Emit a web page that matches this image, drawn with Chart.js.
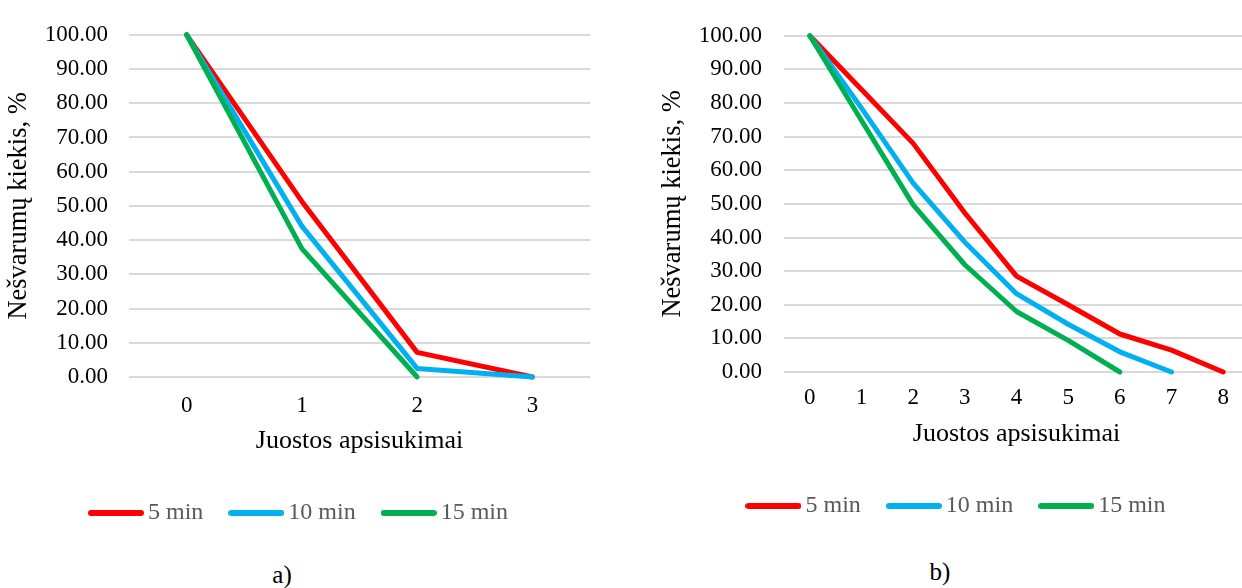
<!DOCTYPE html>
<html>
<head>
<meta charset="utf-8">
<script src="https://cdn.jsdelivr.net/npm/chart.js@4/dist/chart.umd.min.js"></script>
<style>
  html, body { margin: 0; padding: 0; background: #fff; }
  body { width: 1242px; height: 588px; position: relative; overflow: hidden; }
  canvas { position: absolute; top: 0; }
  #chartA { left: 0; }
  #chartB { left: 654px; }
  .cap { position: absolute; font-family: "Liberation Serif", "Times New Roman", serif;
         font-size: 25px; color: #000; transform: translate(-50%, -50%); white-space: nowrap; }
</style>
</head>
<body>
<canvas id="chartA" width="598" height="535"></canvas>
<canvas id="chartB" width="605" height="528"></canvas>
<div class="cap" style="left:282px; top:575px;">a)</div>
<div class="cap" style="left:940px; top:572px;">b)</div>
<script>
// Series names and colours (5, 10 and 15 minutes)
const seriesNames = ['5 min', '10 min', '15 min'];
const seriesColors = ['#FF0000', '#00B0F0', '#00B050'];

// a) belt revolutions and remaining dirt, %
const revolutionsA = ['0', '1', '2', '3'];
const dirtA5 = [100, 51.3, 7.2, 0];
const dirtA10 = [100, 44.1, 2.5, 0];
const dirtA15 = [100, 37.5, 0, null];

// b) belt revolutions and remaining dirt, %
const revolutionsB = ['0', '1', '2', '3', '4', '5', '6', '7', '8'];
const dirtB5 = [100, 84.0, 68.0, 47.3, 28.5, 20.0, 11.3, 6.5, 0];
const dirtB10 = [100, 78.5, 56.2, 38.6, 23.3, 14.2, 6.0, 0, null];
const dirtB15 = [100, 74.8, 49.7, 31.9, 18.0, 9.4, 0, null, null];

// value axis
const yMin = 0, yMax = 100, yStep = 10;

const yTitle = 'Nešvarumų kiekis, %';
const xTitle = 'Juostos apsisukimai';

Chart.defaults.font.family = '"Liberation Serif", "Times New Roman", serif';
Chart.defaults.color = '#000';

// short thick legend strokes with rounded ends
function legendMark(color) {
  const c = document.createElement('canvas');
  c.width = 56; c.height = 8;
  const g = c.getContext('2d');
  g.strokeStyle = color; g.lineWidth = 6; g.lineCap = 'round';
  g.beginPath(); g.moveTo(3, 4); g.lineTo(53, 4); g.stroke();
  return c;
}
const legendMarks = seriesColors.map(legendMark);

// moves the legend row sideways after layout
const legendShift = {
  id: 'legendShift',
  afterLayout(chart, args, opts) {
    if (chart.legend && opts.dx) {
      chart.legend.left += opts.dx;
      chart.legend.right += opts.dx;
    }
  }
};

function makeChart(id, labels, values, g) {
  const datasets = values.map((data, i) => ({
    label: seriesNames[i],
    data: data,
    borderColor: seriesColors[i],
    backgroundColor: seriesColors[i],
    borderWidth: 5,
    borderCapStyle: 'round',
    borderJoinStyle: 'round',
    pointRadius: 0,
    pointHoverRadius: 0,
    tension: 0,
    fill: false,
    clip: false,
    order: values.length - i
  }));

  return new Chart(document.getElementById(id), {
    type: 'line',
    data: { labels: labels, datasets: datasets },
    plugins: [legendShift],
    options: {
      responsive: false,
      animation: false,
      events: [],
      layout: { padding: { left: 0, right: g.padRight, top: 25, bottom: 0 } },
      plugins: {
        tooltip: { enabled: false },
        legendShift: { dx: g.legendDx },
        legend: {
          position: 'bottom',
          labels: {
            usePointStyle: true,
            pointStyleWidth: 40,
            padding: 33,
            color: '#595959',
            font: { size: 24 },
            generateLabels(chart) {
              const items = Chart.defaults.plugins.legend.labels.generateLabels(chart);
              items.sort((a, b) => a.datasetIndex - b.datasetIndex);
              items.forEach(it => { it.pointStyle = legendMarks[it.datasetIndex]; });
              return items;
            }
          }
        }
      },
      scales: {
        x: {
          type: 'category',
          offset: true,
          grid: { display: false, drawTicks: false },
          border: { display: false },
          ticks: { padding: g.xTickPad, font: { size: 23 }, color: '#000', maxRotation: 0 },
          title: { display: true, text: xTitle, font: { size: 26 }, color: '#000',
                   padding: { top: 0, bottom: 11 } },
          afterFit(scale) { scale.height = g.xAxisHeight; }
        },
        y: {
          min: yMin, max: yMax,
          grid: { color: '#d9d9d9', lineWidth: 2, drawTicks: false },
          border: { display: false },
          ticks: { stepSize: yStep, padding: g.yTickPad, font: { size: 23 }, color: '#000',
                   callback: v => Number(v).toFixed(2) },
          title: { display: true, text: yTitle, font: { size: 26.5 }, color: '#000',
                   padding: { top: 3, bottom: 0 } },
          afterFit(scale) { scale.width = g.yAxisWidth; }
        }
      }
    }
  });
}

makeChart('chartA', revolutionsA, [dirtA5, dirtA10, dirtA15],
  { padRight: 8, yAxisWidth: 129, xAxisHeight: 91, xTickPad: 15, yTickPad: 21, legendDx: 7 });
makeChart('chartB', revolutionsB, [dirtB5, dirtB10, dirtB15],
  { padRight: 10, yAxisWidth: 130, xAxisHeight: 89, xTickPad: 12, yTickPad: 22, legendDx: 8 });
</script>
</body>
</html>
